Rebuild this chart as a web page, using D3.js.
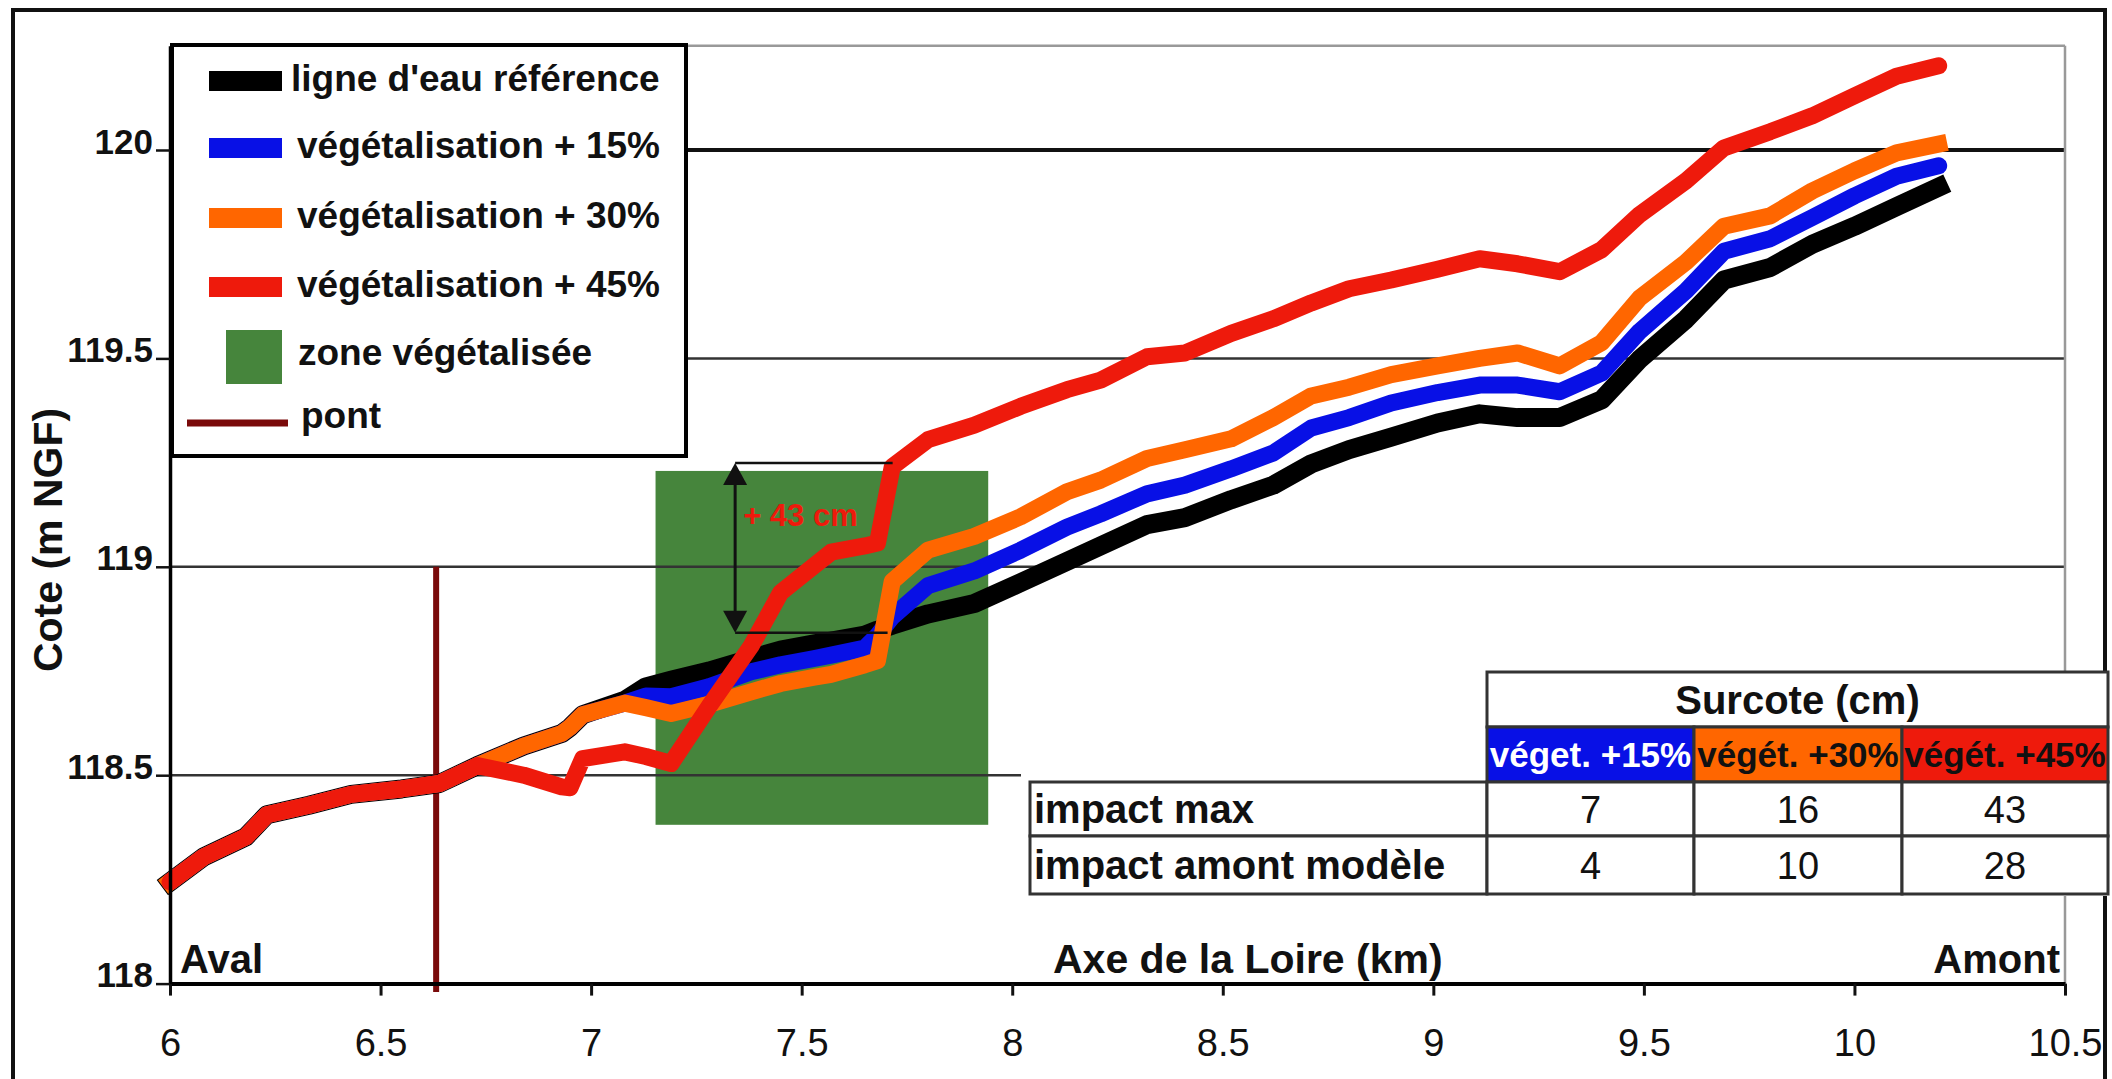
<!DOCTYPE html>
<html>
<head>
<meta charset="utf-8">
<script src="https://cdn.jsdelivr.net/npm/d3@7"></script>
<style>
body { margin: 0; background: #fff; }
svg { display: block; font-family: "Liberation Sans", Arial, sans-serif; }
</style>
</head>
<body>
<svg id="chart" width="2112" height="1079"></svg>
<script>
// Kilometre points along the Loire, shared by every water line
var km = [6.00, 6.08, 6.18, 6.23, 6.33, 6.43, 6.55, 6.64, 6.73, 6.84, 6.93, 6.95, 6.98,
          7.08, 7.13, 7.19, 7.28, 7.38, 7.45, 7.53, 7.57, 7.65, 7.68, 7.715, 7.80, 7.91,
          8.02, 8.13, 8.21, 8.32, 8.41, 8.52, 8.62, 8.71, 8.80, 8.90, 9.01, 9.11, 9.20,
          9.30, 9.40, 9.49, 9.60, 9.69, 9.80, 9.90, 10.00, 10.10, 10.20];

// Water levels (m NGF)
var ligneRef = [118.244, 118.304, 118.352, 118.405, 118.428, 118.454, 118.467, 118.48, 118.523, 118.57, 118.60, 118.615, 118.645,
                118.68, 118.712, 118.728, 118.75, 118.78, 118.80, 118.815, 118.822, 118.836, 118.848, 118.86, 118.887, 118.912,
                118.962, 119.013, 119.05, 119.101, 119.118, 119.161, 119.196, 119.247, 119.281, 119.311, 119.345, 119.367, 119.358,
                119.358, 119.401, 119.498, 119.594, 119.688, 119.718, 119.774, 119.817, 119.864, 119.911];
var veg15 = [118.244, 118.304, 118.352, 118.405, 118.428, 118.454, 118.467, 118.48, 118.523, 118.57, 118.60, 118.615, 118.645,
             118.673, 118.69, 118.688, 118.712, 118.748, 118.765, 118.78, 118.788, 118.805, 118.835, 118.88, 118.955, 118.99,
             119.04, 119.095, 119.127, 119.175, 119.196, 119.235, 119.273, 119.333, 119.358, 119.393, 119.418, 119.436, 119.436,
             119.42, 119.465, 119.565, 119.662, 119.757, 119.787, 119.838, 119.89, 119.937, 119.962];
var veg30 = [118.244, 118.304, 118.352, 118.405, 118.428, 118.454, 118.467, 118.48, 118.523, 118.57, 118.60, 118.615, 118.645,
             118.673, 118.662, 118.648, 118.67, 118.70, 118.72, 118.735, 118.742, 118.765, 118.775, 118.965, 119.04, 119.073,
             119.12, 119.18, 119.208, 119.26, 119.281, 119.307, 119.358, 119.41, 119.431, 119.461, 119.482, 119.50, 119.513,
             119.482, 119.538, 119.645, 119.731, 119.817, 119.842, 119.902, 119.95, 119.993, 120.014];
var veg45 = [118.244, 118.304, 118.352, 118.405, 118.428, 118.454, 118.467, 118.48, 118.523, 118.50, 118.472, 118.47, 118.54,
             118.556, 118.545, 118.528, 118.665, 118.81, 118.938, 119.003, 119.035, 119.05, 119.057, 119.24, 119.305, 119.34,
             119.385, 119.425, 119.448, 119.504, 119.513, 119.56, 119.595, 119.633, 119.667, 119.688, 119.714, 119.739, 119.727,
             119.708, 119.761, 119.845, 119.926, 120.005, 120.044, 120.082, 120.13, 120.177, 120.202];

var legendLabels = ["ligne d'eau référence", 'végétalisation + 15%', 'végétalisation + 30%',
                    'végétalisation + 45%', 'zone végétalisée', 'pont'];

var xTicks = [6, 6.5, 7, 7.5, 8, 8.5, 9, 9.5, 10, 10.5];
var xTickLabels = ['6', '6.5', '7', '7.5', '8', '8.5', '9', '9.5', '10', '10.5'];
var yTicks = [118, 118.5, 119, 119.5, 120];
var yTickLabels = ['118', '118.5', '119', '119.5', '120'];

// vegetated zone and bridge
var zoneKm = [7.153, 7.943];
var zoneCote = [118.381, 119.23];
var pontKm = 6.632;
var pontCote = [117.98, 119];

// +43 cm marker
var surcoteKm = 7.342;
var surcoteCote = [118.842, 119.249];

// table
var tableCols = ['véget. +15%', 'végét. +30%', 'végét. +45%'];
var rowLabels = ['impact max', 'impact amont modèle'];
var impactMax = [7, 16, 43];
var impactAmont = [4, 10, 28];

var colors = {ref: '#000000', v15: '#0810e6', v30: '#ff6600', v45: '#ee1a0c', zone: '#46853c', pont: '#7a0a0a'};

var svg = d3.select('#chart');

var x = d3.scaleLinear().domain([6, 10.5]).range([170, 2065]);
var y = d3.scaleLinear().domain([118, 120.25]).range([983.6, 45.8]);

// outer frame
svg.append('rect')
    .attr('x', 13).attr('y', 10).attr('width', 2092).attr('height', 1100)
    .attr('fill', 'none').attr('stroke', '#111').attr('stroke-width', 4);

// vegetated zone
svg.append('rect')
    .attr('x', x(zoneKm[0])).attr('y', y(zoneCote[1]))
    .attr('width', x(zoneKm[1]) - x(zoneKm[0]))
    .attr('height', y(zoneCote[0]) - y(zoneCote[1]))
    .attr('fill', colors.zone);

// grid
svg.append('g').selectAll('line')
    .data(yTicks.slice(1))
    .enter().append('line')
    .attr('x1', x(6)).attr('x2', x(10.5))
    .attr('y1', function(d) { return y(d); })
    .attr('y2', function(d) { return y(d); })
    .attr('stroke', function(d) { return d === 120 ? '#111' : '#333'; })
    .attr('stroke-width', function(d) { return d === 120 ? 4 : 2.5; });

// plot border top / right
svg.append('line')
    .attr('x1', x(6)).attr('x2', x(10.5)).attr('y1', y(120.25)).attr('y2', y(120.25))
    .attr('stroke', '#999').attr('stroke-width', 2.5);
svg.append('line')
    .attr('x1', x(10.5)).attr('x2', x(10.5)).attr('y1', y(120.25)).attr('y2', y(118))
    .attr('stroke', '#999').attr('stroke-width', 2.5);

// bridge
svg.append('line')
    .attr('x1', x(pontKm)).attr('x2', x(pontKm))
    .attr('y1', y(pontCote[1])).attr('y2', y(pontCote[0]))
    .attr('stroke', colors.pont).attr('stroke-width', 6);

// water lines
var line = d3.line()
    .x(function(d, i) { return x(km[i]); })
    .y(function(d) { return y(d); });

var series = [
    {values: ligneRef, color: colors.ref, width: 19, cap: 'square'},
    {values: veg15, color: colors.v15, width: 17, cap: 'round'},
    {values: veg30, color: colors.v30, width: 17, cap: 'square'},
    {values: veg45, color: colors.v45, width: 17, cap: 'round'}
];

svg.append('g').selectAll('path')
    .data(series)
    .enter().append('path')
    .attr('d', function(d) { return line(d.values); })
    .attr('fill', 'none')
    .attr('stroke', function(d) { return d.color; })
    .attr('stroke-width', function(d) { return d.width; })
    .attr('stroke-linejoin', 'round')
    .attr('stroke-linecap', function(d) { return d.cap; });

// +43 cm annotation
var ann = svg.append('g');
var ax = x(surcoteKm);
var yTop = y(surcoteCote[1]), yBot = y(surcoteCote[0]);
ann.append('line').attr('x1', ax).attr('x2', x(7.716)).attr('y1', yTop).attr('y2', yTop)
    .attr('stroke', '#111').attr('stroke-width', 2.5);
ann.append('line').attr('x1', ax).attr('x2', x(7.704)).attr('y1', yBot).attr('y2', yBot)
    .attr('stroke', '#111').attr('stroke-width', 2.5);
ann.append('line').attr('x1', ax).attr('x2', ax).attr('y1', yTop + 18).attr('y2', yBot - 18)
    .attr('stroke', '#111').attr('stroke-width', 3);
ann.append('path')
    .attr('d', 'M' + ax + ',' + yTop + 'l-12,22h24z')
    .attr('fill', '#111');
ann.append('path')
    .attr('d', 'M' + ax + ',' + yBot + 'l-12,-22h24z')
    .attr('fill', '#111');
ann.append('text')
    .attr('x', ax + 8).attr('y', yTop + 63)
    .attr('font-size', 31).attr('font-weight', 'bold')
    .attr('fill', colors.v45)
    .text('+ 43 cm');

// axes
var xAxis = d3.axisBottom(x).tickValues(xTicks).tickSize(12).tickSizeOuter(0)
    .tickFormat(function(d, i) { return xTickLabels[i]; });
var xg = svg.append('g').attr('transform', 'translate(0,' + y(118) + ')').call(xAxis);
xg.select('.domain').attr('stroke', '#000').attr('stroke-width', 4);
xg.selectAll('.tick line').attr('stroke', '#111').attr('stroke-width', 3);
xg.selectAll('.tick text')
    .attr('y', 72).attr('dy', 0)
    .attr('font-size', 38).attr('font-family', '"Liberation Sans", Arial, sans-serif')
    .attr('fill', '#111');

var yAxis = d3.axisLeft(y).tickValues(yTicks).tickSize(14).tickSizeOuter(0)
    .tickFormat(function(d, i) { return yTickLabels[i]; });
var yg = svg.append('g').attr('transform', 'translate(' + x(6) + ',0)').call(yAxis);
yg.select('.domain').attr('stroke', '#000').attr('stroke-width', 3.5);
yg.selectAll('.tick line').attr('stroke', '#111').attr('stroke-width', 2.5);
yg.selectAll('.tick text')
    .attr('x', -17).attr('dy', 3)
    .attr('font-size', 35).attr('font-weight', 'bold')
    .attr('font-family', '"Liberation Sans", Arial, sans-serif')
    .attr('fill', '#111');

// axis titles
svg.append('text')
    .attr('transform', 'translate(62,540) rotate(-90)')
    .attr('text-anchor', 'middle')
    .attr('font-size', 41).attr('font-weight', 'bold').attr('fill', '#111')
    .text('Cote (m NGF)');
svg.append('text')
    .attr('x', 180).attr('y', 973)
    .attr('font-size', 40).attr('font-weight', 'bold').attr('fill', '#111')
    .text('Aval');
svg.append('text')
    .attr('x', 1053).attr('y', 973)
    .attr('font-size', 41).attr('font-weight', 'bold').attr('fill', '#111')
    .text('Axe de la Loire (km)');
svg.append('text')
    .attr('x', 2060).attr('y', 973).attr('text-anchor', 'end')
    .attr('font-size', 40).attr('font-weight', 'bold').attr('fill', '#111')
    .text('Amont');

// legend
var lg = svg.append('g');
lg.append('rect')
    .attr('x', 172).attr('y', 45).attr('width', 514).attr('height', 411)
    .attr('fill', '#fff').attr('stroke', '#000').attr('stroke-width', 4);
var legendRows = [91, 158, 228, 297, 365, 428];
var legendTextX = [291, 297, 297, 297, 298, 301];
var swatchColors = [colors.ref, colors.v15, colors.v30, colors.v45];
swatchColors.forEach(function(c, i) {
    lg.append('rect')
        .attr('x', 209).attr('y', legendRows[i] - 20).attr('width', 73).attr('height', 20)
        .attr('fill', c);
});
lg.append('rect')
    .attr('x', 226).attr('y', 330).attr('width', 56).attr('height', 54)
    .attr('fill', colors.zone);
lg.append('line')
    .attr('x1', 187).attr('x2', 288).attr('y1', 423).attr('y2', 423)
    .attr('stroke', colors.pont).attr('stroke-width', 7);
lg.selectAll('text')
    .data(legendLabels)
    .enter().append('text')
    .attr('x', function(d, i) { return legendTextX[i]; })
    .attr('y', function(d, i) { return legendRows[i]; })
    .attr('font-size', 37).attr('font-weight', 'bold').attr('fill', '#111')
    .text(function(d) { return d; });

// table
var tg = svg.append('g');
var colX = [1487, 1694, 1902, 2108];
var labelX = 1030;
var rowY = [672, 727, 782, 836, 894];
var headFill = [colors.v15, colors.v30, colors.v45];
var headText = ['#fff', '#111', '#111'];

tg.append('rect').attr('x', 1021).attr('y', 766).attr('width', 1091).attr('height', 130).attr('fill', '#fff');
tg.append('rect').attr('x', colX[0]).attr('y', rowY[0]).attr('width', colX[3] - colX[0]).attr('height', rowY[1] - rowY[0])
    .attr('fill', '#fff').attr('stroke', '#333').attr('stroke-width', 3);
tg.append('text')
    .attr('x', (colX[0] + colX[3]) / 2).attr('y', rowY[0] + 42).attr('text-anchor', 'middle')
    .attr('font-size', 40).attr('font-weight', 'bold').attr('fill', '#111')
    .text('Surcote (cm)');

tableCols.forEach(function(c, i) {
    tg.append('rect')
        .attr('x', colX[i]).attr('y', rowY[1]).attr('width', colX[i + 1] - colX[i]).attr('height', rowY[2] - rowY[1])
        .attr('fill', headFill[i]).attr('stroke', '#333').attr('stroke-width', 3);
    tg.append('text')
        .attr('x', (colX[i] + colX[i + 1]) / 2).attr('y', rowY[1] + 40).attr('text-anchor', 'middle')
        .attr('font-size', 35).attr('font-weight', 'bold').attr('fill', headText[i])
        .text(c);
});

[impactMax, impactAmont].forEach(function(row, r) {
    var top = rowY[2 + r], h = rowY[3 + r] - top;
    tg.append('rect')
        .attr('x', labelX).attr('y', top).attr('width', colX[0] - labelX).attr('height', h)
        .attr('fill', '#fff').attr('stroke', '#333').attr('stroke-width', 3);
    tg.append('text')
        .attr('x', labelX + 4).attr('y', top + h / 2 + 14)
        .attr('font-size', 40).attr('font-weight', 'bold').attr('fill', '#111')
        .text(rowLabels[r]);
    row.forEach(function(v, i) {
        tg.append('rect')
            .attr('x', colX[i]).attr('y', top).attr('width', colX[i + 1] - colX[i]).attr('height', h)
            .attr('fill', '#fff').attr('stroke', '#333').attr('stroke-width', 3);
        tg.append('text')
            .attr('x', (colX[i] + colX[i + 1]) / 2).attr('y', top + h / 2 + 14).attr('text-anchor', 'middle')
            .attr('font-size', 38).attr('fill', '#111')
            .text(v);
    });
});
</script>
</body>
</html>
